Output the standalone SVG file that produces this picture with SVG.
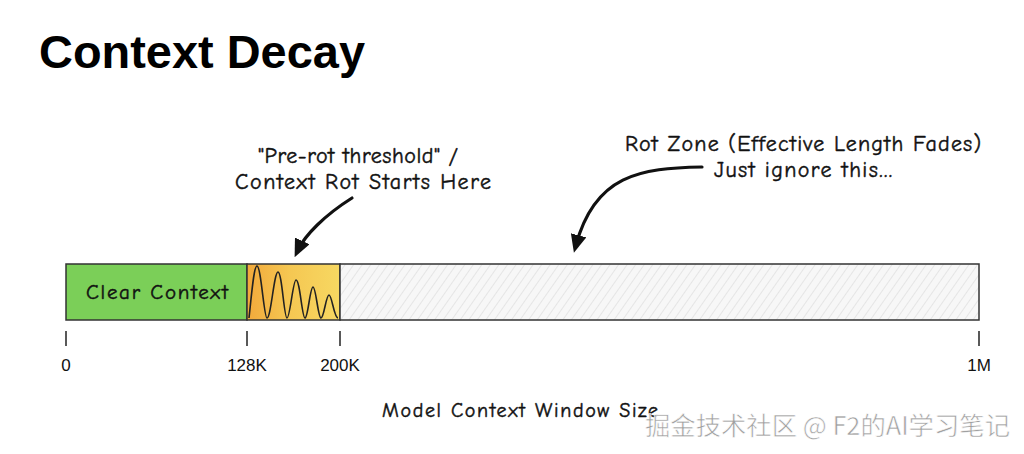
<svg xmlns="http://www.w3.org/2000/svg" width="1024" height="454" viewBox="0 0 1024 454">
<defs>
<style>
.hand{font-family:"Comic Neue","Noto Sans","Liberation Sans",sans-serif;fill:#111;stroke:#111;stroke-width:0.45;}
.ax{font-family:"Liberation Sans",Arial,sans-serif;font-size:17px;fill:#111;text-anchor:middle;}
.tick{stroke:#222;stroke-width:1.5;}
.arrow{fill:none;stroke:#111;stroke-width:3.2;stroke-linecap:round;}
</style>
<pattern id="hatch" patternUnits="userSpaceOnUse" width="7" height="7" patternTransform="rotate(35)">
<rect width="7" height="7" fill="#f7f7f7"/>
<line x1="0" y1="0" x2="0" y2="7" stroke="#d4d4d4" stroke-width="1"/>
</pattern>
<linearGradient id="yel" x1="0" y1="0" x2="1" y2="0">
<stop offset="0" stop-color="#f2a93b"/>
<stop offset="0.45" stop-color="#f5c752"/>
<stop offset="1" stop-color="#f7d862"/>
</linearGradient>
<marker id="ah" markerWidth="18" markerHeight="16" refX="10" refY="8" orient="auto" markerUnits="userSpaceOnUse" viewBox="0 0 18 16">
<path d="M0,0 L18,8 L0,16 Z" fill="#111"/>
</marker>
</defs>
<rect width="1024" height="454" fill="#fff"/>
<text x="39" y="68" font-family="Liberation Sans,Arial,sans-serif" font-weight="bold" font-size="47" fill="#000" textLength="326" lengthAdjust="spacingAndGlyphs">Context Decay</text>

<g id="clear">
<rect x="66" y="264" width="181" height="56" fill="#7bcf58" stroke="#333" stroke-width="1.5"/>
<text class="hand" x="86" y="299" font-size="21" textLength="142" lengthAdjust="spacing">Clear Context</text>
</g>
<g id="prerot">
<rect x="247" y="264" width="93" height="56" fill="url(#yel)" stroke="#333" stroke-width="1.5"/>
<path d="M249,318 C252,290 254,266 257,266 C261,266 264,318 267,318 C271,318 274,272 278,272 C282,272 284,318 287,318 C290,318 293,280 296,280 C300,280 302,318 305,318 C308,318 310,287 313,287 C316,287 318,318 321,318 C324,318 326,295 329,295 C332,295 334,318 338,318" fill="none" stroke="#222" stroke-width="1.6"/>
</g>
<g id="rotzone">
<rect x="340" y="264" width="639" height="56" fill="url(#hatch)" stroke="#333" stroke-width="1.5"/>
</g>

<g id="axis">
<line class="tick" x1="66" y1="331" x2="66" y2="346"/>
<line class="tick" x1="247" y1="331" x2="247" y2="346"/>
<line class="tick" x1="340" y1="331" x2="340" y2="346"/>
<line class="tick" x1="979" y1="331" x2="979" y2="346"/>
<text class="ax" x="66" y="371">0</text>
<text class="ax" x="247" y="371">128K</text>
<text class="ax" x="340" y="371">200K</text>
<text class="ax" x="979" y="371">1M</text>
<text class="hand" x="382" y="417" font-size="20" textLength="276" lengthAdjust="spacing">Model Context Window Size</text>
</g>

<g id="label-prerot">
<text class="hand" x="258" y="163" font-size="22" textLength="200" lengthAdjust="spacing">"Pre-rot threshold" /</text>
<text class="hand" x="235" y="189" font-size="22" textLength="256" lengthAdjust="spacing">Context Rot Starts Here</text>
</g>
<g id="label-rot">
<text class="hand" x="625" y="151" font-size="22" textLength="356" lengthAdjust="spacing">Rot Zone (Effective Length Fades)</text>
<text class="hand" x="714" y="177" font-size="22" textLength="178" lengthAdjust="spacing">Just ignore this...</text>
</g>

<g id="connectors">
<path class="arrow" d="M352,198 C325,215 305,235 298,250" marker-end="url(#ah)"/>
<path class="arrow" d="M702,167 C640,168 595,175 576,245" marker-end="url(#ah)"/>
</g>

<text x="645" y="435" font-family="Noto Sans CJK SC,sans-serif" font-size="25" fill="#a0a0a0" stroke="#fff" stroke-width="0.6" textLength="365" lengthAdjust="spacingAndGlyphs">掘金技术社区 @ F2的AI学习笔记</text>
</svg>
